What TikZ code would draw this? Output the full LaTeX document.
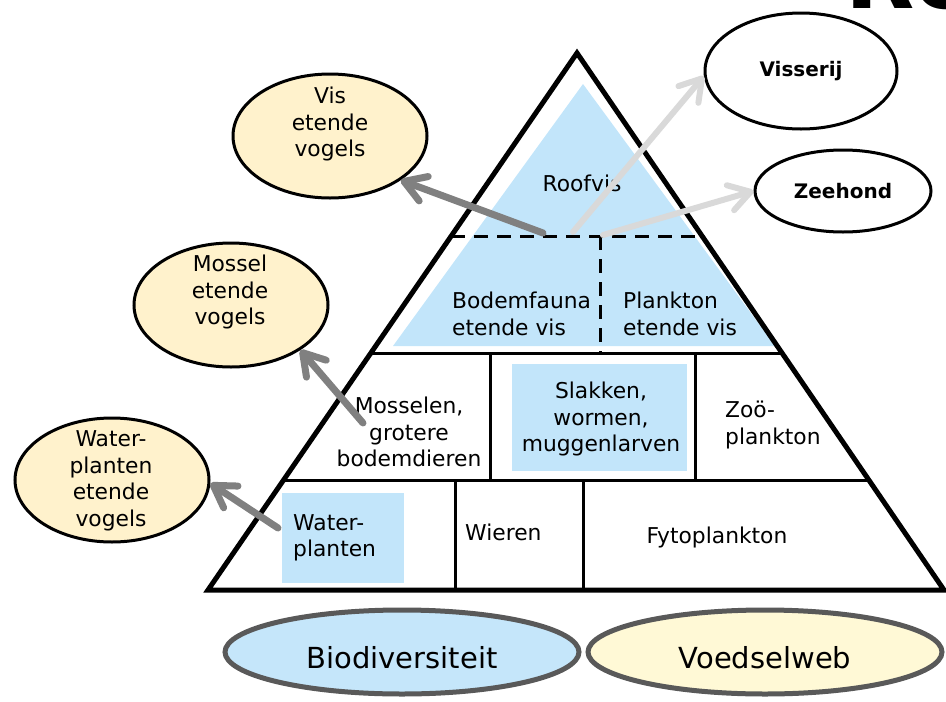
\documentclass[tikz,border=0pt]{standalone}
\usepackage{fontspec}
\setmainfont{DejaVu Sans}
\usetikzlibrary{arrows.meta,calc,shapes.geometric}

\definecolor{layerblue}{RGB}{194,229,250}
\definecolor{birdcream}{RGB}{255,242,204}
\definecolor{biofill}{RGB}{197,230,250}
\definecolor{webfill}{RGB}{255,249,214}
\definecolor{rimgray}{RGB}{89,89,89}
\definecolor{darkarrow}{RGB}{128,128,128}
\definecolor{lightarrow}{RGB}{217,217,217}

\tikzset{
  pyrtext/.style={font=\fontsize{21.8}{26.5}\selectfont, inner sep=0pt},
  birdell/.style={ellipse, draw=black, line width=3pt, fill=birdcream,
    minimum width=194pt, minimum height=124pt, inner sep=0pt},
  consumer/.style={ellipse, draw=black, line width=3pt, fill=white, inner sep=0pt,
    font=\bfseries\fontsize{20}{24}\selectfont},
  themeell/.style={ellipse, draw=rimgray, line width=5pt, minimum width=354pt,
    minimum height=84pt, inner sep=0pt, text height=32pt, text depth=0pt,
    font=\fontsize{29}{29}\selectfont},
  feedarrow/.style={draw=darkarrow, line width=7pt, line cap=round, line join=round,
    -{Straight Barb[length=21pt,width=26pt,round]}},
  catcharrow/.style={draw=lightarrow, line width=6pt, line cap=round, line join=round,
    -{Straight Barb[length=21pt,width=26pt,round]}},
  rung/.style={line width=3pt},
  dashrung/.style={line width=3pt, dash pattern=on 14pt off 9pt},
}

\begin{document}
\begin{tikzpicture}[x=1pt, y=-1pt]
\useasboundingbox (0,0) rectangle (946,702);

% title, only its lower edge falls inside the page
\node[anchor=base west, inner sep=0pt, font=\bfseries\fontsize{90}{90}\selectfont] (title) at (845,8) {Re};

% pyramid corners
\coordinate (apex) at (577,53);
\coordinate (bl) at (208,590);
\coordinate (br) at (944,590);

% shaded layers
\fill[layerblue] (583,84) -- (393,346) -- (775,346) -- cycle;
\fill[layerblue] (512,364) rectangle (687,471);
\fill[layerblue] (282,493) rectangle (404,583);

% layer borders
\draw[dashrung] ($(apex)!0.3408!(bl)$) -- ($(apex)!0.3408!(br)$);
\draw[dashrung] (600,236) -- (600,353);
\draw[rung] ($(apex)!0.5587!(bl)$) -- ($(apex)!0.5587!(br)$);
\draw[rung] ($(apex)!0.7970!(bl)$) -- ($(apex)!0.7970!(br)$);
\draw[rung] (490,353) -- (490,481);
\draw[rung] (695,353) -- (695,481);
\draw[rung] (455,481) -- (455,590);
\draw[rung] (583,481) -- (583,590);
\draw[line width=5pt, line join=miter] (apex) -- (bl) -- (br) -- cycle;

% layer labels
\node[pyrtext] (roofvis) at (582,183) {Roofvis};
\node[pyrtext, align=left, anchor=west] (bodemvis) at (452,314) {Bodemfauna\\etende vis};
\node[pyrtext, align=left, anchor=west] (planktonvis) at (623,314) {Plankton\\etende vis};
\node[pyrtext, align=center] (mosselen) at (409,432) {Mosselen,\\grotere\\bodemdieren};
\node[pyrtext, align=center] (slakken) at (601,419) {Slakken,\\wormen,\\muggenlarven};
\node[pyrtext, align=left, anchor=west] (zoo) at (725,425) {Zoö-\\plankton};
\node[pyrtext, align=left, anchor=west] (waterplanten) at (293,538) {Water-\\planten};
\node[pyrtext, anchor=west] (wieren) at (465,532) {Wieren};
\node[pyrtext] (fyto) at (717,537) {Fytoplankton};

% birds
\node[birdell] (visvogel) at (330,136) {};
\node[pyrtext, align=center] (visvogeltxt) at (330,124) {Vis\\etende\\vogels};
\node[birdell] (mosvogel) at (231,305) {};
\node[pyrtext, align=center] (mosvogeltxt) at (230,292) {Mossel\\etende\\vogels};
\node[birdell] (watvogel) at (112,480) {};
\node[pyrtext, align=center] (watvogeltxt) at (111,481) {Water-\\planten\\etende\\vogels};

% top consumers
\node[consumer, minimum width=192pt, minimum height=116pt] (visserij) at (801,71) {Visserij};
\node[consumer, minimum width=176pt, minimum height=82pt] (zeehond) at (843,191) {Zeehond};

% themes
\node[themeell, fill=biofill] (bio) at (402,652) {Biodiversiteit};
\node[themeell, fill=webfill] (web) at (765,652) {Voedselweb};

% who eats what
\coordinate (fishtail) at (543,233);
\coordinate (musseltail) at (363,423);
\coordinate (planttail) at (278,528);
\coordinate (catchtail) at (573,232);
\coordinate (sealtail) at (603,235);
\draw[feedarrow] (fishtail) -- (visvogel.-32);
\draw[feedarrow] (musseltail) -- (mosvogel.-33);
\draw[feedarrow] (planttail) -- (watvogel.-2);
\draw[catcharrow] (catchtail) -- (visserij.183);
\draw[catcharrow] (sealtail) -- (zeehond.180);
\end{tikzpicture}
\end{document}
